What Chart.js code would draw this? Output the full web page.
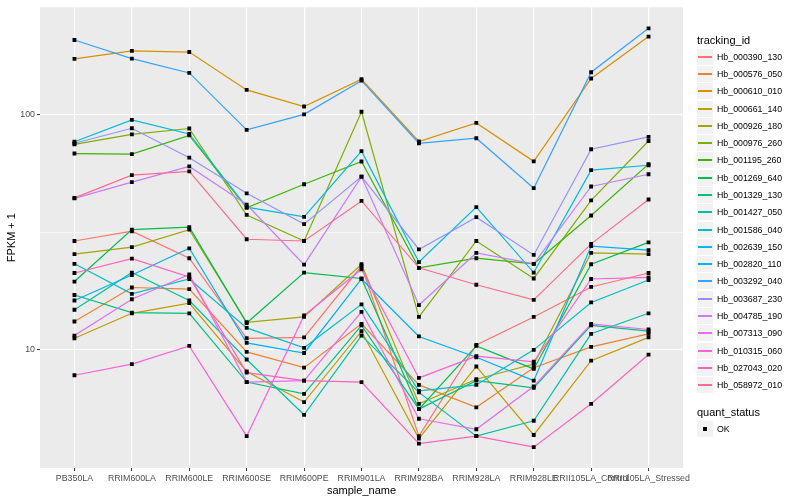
<!DOCTYPE html>
<html>
<head>
<meta charset="utf-8">
<script src="https://cdn.jsdelivr.net/npm/chart.js@4/dist/chart.umd.min.js"></script>
<style>
  body { margin: 0; background: #fff; font-family: "Liberation Sans", Arial, sans-serif; }
  #wrap { position: relative; width: 800px; height: 500px; }
  #chart { position: absolute; left: 0; top: 0; }
  #legend { position: absolute; left: 697px; top: 0; width: 103px; height: 500px; }
  .ttl { position: absolute; left: 0; font-size: 11px; line-height: 13px; color: #000; white-space: nowrap; }
  .row { position: absolute; left: 0; height: 17px; }
  .key { position: absolute; left: 0; top: 0; width: 16px; height: 16px; background: #F2F2F2; }
  .key i { position: absolute; left: 1px; right: 1px; top: 7.3px; height: 1.5px; }
  .key b { position: absolute; left: 6px; top: 6px; width: 4px; height: 4px; background: #000; }
  .lab { position: absolute; left: 20px; top: 0; line-height: 17px; font-size: 8.8px; color: #000; white-space: nowrap; }
</style>
</head>
<body>
<div id="wrap">
  <canvas id="chart" width="800" height="500"></canvas>
  <div id="legend"></div>
</div>
<script>
// x categories
const samples = ['PB350LA', 'RRIM600LA', 'RRIM600LE', 'RRIM600SE', 'RRIM600PE', 'RRIM901LA',
  'RRIM928BA', 'RRIM928LA', 'RRIM928LE', 'RRII105LA_Control', 'RRII105LA_Stressed'];

// y axis labelled ticks and the minor grid line between them
const yTickValues = [10, 100];
const yMinorValues = [31.62];

// FPKM + 1 per gene, one value per sample
const hb000390_130 = [29.0, 31.9, 24.5, 11.2, 11.3, 22.7, 4.3, 10.5, 13.8, 18.5, 21.2];
const hb000576_050 = [13.2, 18.4, 18.1, 9.8, 8.4, 12.9, 7.1, 5.7, 8.4, 10.3, 11.7];
const hb000610_010 = [172, 186, 184, 127, 108, 141, 76.7, 92, 63.2, 142, 214];
const hb000661_140 = [11.2, 14.3, 15.8, 8.1, 6.0, 12.0, 4.2, 8.5, 4.35, 9.0, 11.3];
const hb000926_180 = [25.5, 27.3, 32.4, 13.1, 13.8, 23.1, 5.9, 7.5, 8.7, 25.8, 25.5];
const hb000976_260 = [74.6, 82.3, 87.1, 37.4, 29.0, 102.6, 13.8, 29.0, 20.1, 43.1, 77.1];
const hb001195_260 = [68.2, 67.8, 81.4, 40.1, 50.5, 63.1, 22.3, 24.5, 23.2, 37.2, 61.5];
const hb001269_640 = [19.5, 32.4, 33.2, 13.0, 21.3, 20.1, 5.6, 10.4, 8.3, 23.1, 28.6];
const hb001329_130 = [17.1, 14.4, 14.3, 7.3, 6.5, 12.7, 5.6, 7.4, 6.9, 12.7, 12.0];
const hb001427_050 = [14.8, 21.3, 16.2, 9.1, 5.3, 11.5, 6.6, 4.3, 5.0, 11.7, 14.3];
const hb001586_040 = [23.2, 17.3, 20.0, 12.4, 10.2, 15.6, 6.7, 7.1, 10.0, 15.9, 19.8];
const hb002639_150 = [76.5, 94.7, 82.6, 40.4, 36.7, 69.8, 23.6, 40.4, 21.3, 58.0, 60.8];
const hb002820_110 = [16.2, 20.8, 27.0, 10.7, 9.7, 20.0, 11.4, 9.3, 7.4, 27.6, 26.5];
const hb003292_040 = [207, 172.5, 150, 86, 100, 139, 75.4, 79.2, 48.6, 151, 232];
const hb003687_230 = [75.4, 87.3, 65.5, 46.2, 34.2, 54.4, 26.7, 36.6, 25.3, 71.1, 80.2];
const hb004785_190 = [44.0, 51.6, 60.1, 41.4, 23.0, 54.4, 15.5, 25.8, 23.2, 49.4, 55.7];
const hb007313_090 = [11.5, 16.4, 20.9, 7.3, 7.4, 14.5, 5.1, 4.6, 7.0, 12.9, 12.2];
const hb010315_060 = [7.8, 8.7, 10.4, 4.3, 14.0, 22.0, 7.6, 9.4, 8.9, 20.0, 20.3];
const hb027043_020 = [21.2, 24.4, 20.4, 8.0, 7.4, 7.3, 4.0, 4.3, 3.86, 5.9, 9.55];
const hb058972_010 = [44.2, 55.2, 57.3, 29.5, 29.0, 42.9, 22.3, 18.9, 16.3, 28.2, 43.5];

const trackingIds = ['Hb_000390_130', 'Hb_000576_050', 'Hb_000610_010', 'Hb_000661_140', 'Hb_000926_180',
  'Hb_000976_260', 'Hb_001195_260', 'Hb_001269_640', 'Hb_001329_130', 'Hb_001427_050',
  'Hb_001586_040', 'Hb_002639_150', 'Hb_002820_110', 'Hb_003292_040', 'Hb_003687_230',
  'Hb_004785_190', 'Hb_007313_090', 'Hb_010315_060', 'Hb_027043_020', 'Hb_058972_010'];
const seriesValues = [hb000390_130, hb000576_050, hb000610_010, hb000661_140, hb000926_180,
  hb000976_260, hb001195_260, hb001269_640, hb001329_130, hb001427_050,
  hb001586_040, hb002639_150, hb002820_110, hb003292_040, hb003687_230,
  hb004785_190, hb007313_090, hb010315_060, hb027043_020, hb058972_010];

// ggplot default hue palette for 20 groups
const trackColors = ['#F8766D', '#EA8331', '#D89000', '#C09B00', '#A3A500', '#7CAE00', '#39B600', '#00BB4E',
  '#00BF7D', '#00C1A3', '#00BFC4', '#00BAE0', '#00B0F6', '#35A2FF', '#9590FF', '#C77CFF',
  '#E76BF3', '#FA62DB', '#FF62BC', '#FF6C91'];

const FONT = '"Liberation Sans", Arial, sans-serif';

// grey panel behind the grid
const panelBg = {
  id: 'panelBg',
  beforeDraw(chart) {
    const { ctx, chartArea: a } = chart;
    ctx.save();
    ctx.fillStyle = '#EBEBEB';
    ctx.fillRect(a.left, a.top, a.right - a.left, a.bottom - a.top);
    ctx.restore();
  }
};

const lineSets = trackingIds.map((id, i) => ({
  label: id,
  data: seriesValues[i].map((v, j) => ({ x: j, y: v })),
  borderColor: trackColors[i],
  backgroundColor: trackColors[i],
  borderWidth: 1.2,
  pointRadius: 0,
  pointHoverRadius: 0,
  tension: 0,
  fill: false,
  order: trackingIds.length - i
}));

// all points on top of all lines, like geom_point after geom_line
const pointSet = {
  type: 'scatter',
  label: 'OK',
  data: seriesValues.flatMap(vals => vals.map((v, j) => ({ x: j, y: v }))),
  pointStyle: 'rect',
  pointRadius: 2.7,
  backgroundColor: '#000',
  borderColor: '#000',
  borderWidth: 0,
  showLine: false,
  order: 0
};

const isMajor = v => yTickValues.includes(v);

new Chart(document.getElementById('chart'), {
  type: 'line',
  data: { datasets: [...lineSets, pointSet] },
  options: {
    responsive: false,
    animation: false,
    layout: { padding: { top: 5, right: 117, left: 0, bottom: 0 } },
    plugins: { legend: { display: false }, tooltip: { enabled: false } },
    scales: {
      x: {
        type: 'linear',
        min: -0.6,
        max: samples.length - 1 + 0.6,
        afterBuildTicks: ax => { ax.ticks = samples.map((s, i) => ({ value: i })); },
        afterFit: ax => { ax.height = 32; },
        ticks: {
          autoSkip: false, maxRotation: 0, minRotation: 0, padding: 2,
          color: '#4D4D4D', font: { size: 8.8, family: FONT },
          callback: v => samples[v]
        },
        grid: { color: '#FFFFFF', lineWidth: 1.1, tickLength: 3, tickColor: '#333333', tickWidth: 1 },
        border: { display: false },
        title: { display: true, text: 'sample_name', color: '#000', font: { size: 11, family: FONT }, padding: { top: 0, bottom: 2 } }
      },
      y: {
        type: 'logarithmic',
        min: 3.15,
        max: 285,
        afterBuildTicks: ax => {
          ax.ticks = [...yTickValues, ...yMinorValues].sort((a, b) => a - b).map(v => ({ value: v }));
        },
        afterFit: ax => { ax.width = 40; },
        ticks: {
          autoSkip: false, padding: 2,
          color: '#4D4D4D', font: { size: 8.8, family: FONT },
          callback: v => isMajor(v) ? String(v) : ''
        },
        grid: {
          color: '#FFFFFF',
          lineWidth: c => (c.tick && isMajor(c.tick.value)) ? 1.1 : 0.55,
          tickLength: 3,
          tickWidth: 1,
          tickColor: c => (c.tick && isMajor(c.tick.value)) ? '#333333' : 'rgba(0,0,0,0)'
        },
        border: { display: false },
        title: { display: true, text: 'FPKM + 1', color: '#000', font: { size: 11, family: FONT }, padding: { top: 5, bottom: 0 } }
      }
    }
  },
  plugins: [panelBg]
});

// ggplot-style legend on the right
const legend = document.getElementById('legend');
function addTitle(text, centerY) {
  const t = document.createElement('div');
  t.className = 'ttl';
  t.style.top = Math.round(centerY - 6.5) + 'px';
  t.textContent = text;
  legend.appendChild(t);
}
function addRow(centerY, label, color) {
  const r = document.createElement('div');
  r.className = 'row';
  r.style.top = Math.round(centerY - 8.5) + 'px';
  const k = document.createElement('div');
  k.className = 'key';
  const mark = document.createElement(color ? 'i' : 'b');
  if (color) mark.style.background = color;
  k.appendChild(mark);
  const l = document.createElement('div');
  l.className = 'lab';
  l.textContent = label;
  r.appendChild(k);
  r.appendChild(l);
  legend.appendChild(r);
}
addTitle('tracking_id', 40.7);
trackingIds.forEach((id, i) => addRow(57.3 + 17.28 * i, id, trackColors[i]));
addTitle('quant_status', 412.3);
addRow(429, 'OK', null);
</script>
</body>
</html>
